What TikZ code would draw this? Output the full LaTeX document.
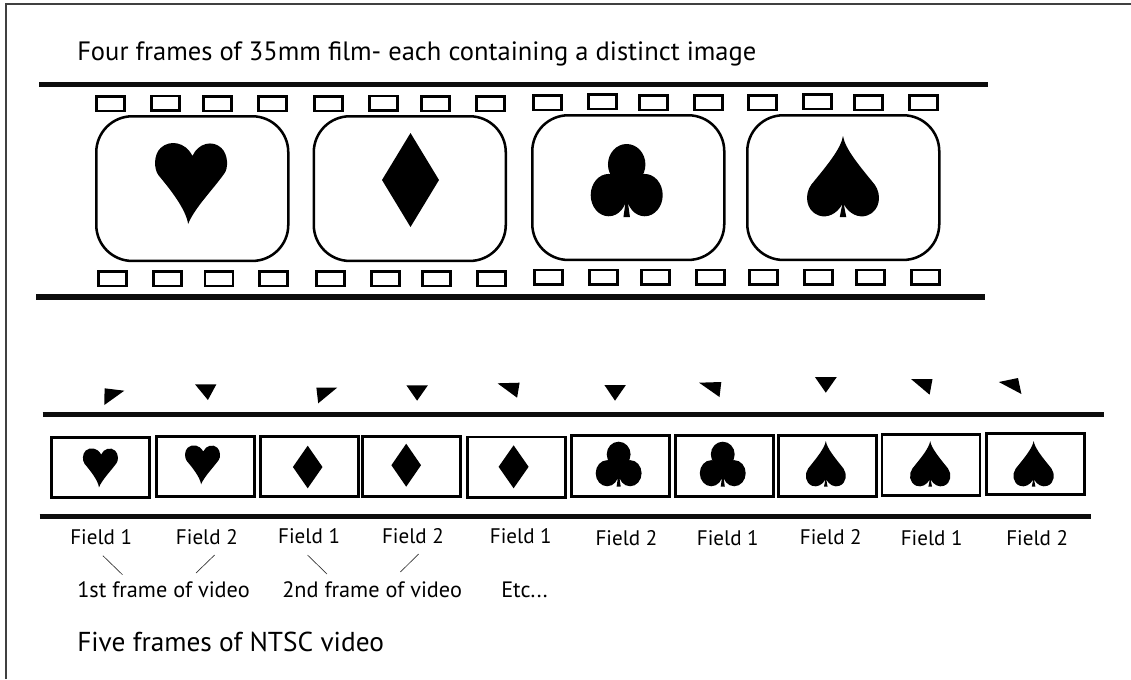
\documentclass[tikz,border=0pt]{standalone}
\usepackage{fontspec}
\setmainfont{PT Sans}
\newcommand{\hrtshape}{(0.46,1) .. controls (0.43,0.82) and (0.22,0.58) .. (0.05,0.4) .. controls (-0.02,0.32) and (-0.02,0.14) .. (0.08,0.06) .. controls (0.2,-0.04) and (0.42,-0.02) .. (0.52,0.16) .. controls (0.6,0) and (0.8,-0.04) .. (0.92,0.06) .. controls (1.02,0.14) and (1.02,0.32) .. (0.96,0.38) .. controls (0.8,0.58) and (0.55,0.8) .. (0.46,1) -- cycle}
\newcommand{\spdshape}{(0.5,0) .. controls (0.53,0.16) and (0.72,0.36) .. (0.94,0.6) .. controls (1.04,0.72) and (1.02,0.92) .. (0.84,0.98) .. controls (0.72,1.02) and (0.58,0.96) .. (0.51,0.84) -- (0.545,1) -- (0.455,1) -- (0.49,0.84) .. controls (0.42,0.96) and (0.28,1.02) .. (0.16,0.98) .. controls (-0.02,0.92) and (-0.04,0.72) .. (0.06,0.6) .. controls (0.28,0.36) and (0.47,0.16) .. (0.5,0) -- cycle}
\newcommand{\dmdshape}{(0.5,0) -- (1,0.5) -- (0.5,1) -- (0,0.5) -- cycle}
\newcommand{\clbshape}{(0.5,0.28) ellipse [x radius=0.26,y radius=0.28] (0.25,0.7) ellipse [x radius=0.25,y radius=0.29] (0.75,0.7) ellipse [x radius=0.25,y radius=0.29] (0.5,0.6) ellipse [x radius=0.2,y radius=0.22] (0.49,0.75) -- (0.51,0.75) -- (0.545,1) -- (0.455,1) -- cycle}
\newcommand{\suit}[5]{\fill[black,shift={(#2,#3)},x=#4*0.75pt,y=-#5*0.75pt] #1;}
\tikzset{
 x=0.75pt,y=-0.75pt,
 border/.style={draw=black!75,line width=1.9pt},
 filmline/.style={line width=3.9pt,black!95},
 sprocket/.style={draw=black,line width=1.9pt,rectangle,minimum width=21pt,minimum height=11pt,inner sep=0pt,anchor=north west},
 filmframe/.style={draw=black,line width=1.9pt,rectangle,rounded corners=27pt,minimum width=144pt,minimum height=108.5pt,inner sep=0pt,anchor=north west},
 fieldbox/.style={draw=black,line width=2.2pt,rectangle,minimum width=73.5pt,minimum height=45.5pt,inner sep=0pt,anchor=north west},
 wedge/.style={fill=black},
 titletext/.style={anchor=base west,inner sep=0pt,font=\fontsize{19.9}{22}\selectfont},
 videotext/.style={anchor=base west,inner sep=0pt,font=\fontsize{20.5}{23}\selectfont},
 fieldtext/.style={anchor=base west,inner sep=0pt,font=\fontsize{15.8}{18}\selectfont},
 frametext/.style={anchor=base west,inner sep=0pt,font=\fontsize{16.7}{19}\selectfont},
 tick/.style={draw=black!80,line width=0.5pt}
}
\begin{document}
\begin{tikzpicture}
\useasboundingbox (0,0) rectangle (1131,679);
\draw[border] (6,679) -- (6,4) -- (1131,4);
\node[titletext] (t1) at (77,60) {Four frames of 35mm film- each containing a distinct image};
\node[videotext] (t2) at (77,651.7) {Five frames of NTSC video};
% film
\draw[filmline] (39,84.5) -- (988,84.5);
\draw[filmline] (36,297) -- (985,297);
\foreach \i/\x/\y in {1/95/95,2/150/94.5,3/202/95,4/257/95,5/313/95,6/368/94.5,7/420/95,8/475/95,9/532/94,10/587/93,11/638/94,12/693/94,13/747/94,14/802/93,15/853/94,16/908/94}
 \node[sprocket] (st\i) at (\x,\y) {};
\foreach \i/\x/\y in {1/97/270,2/152/270,3/203.5/270,4/258/270,5/315/270,6/370/270,7/421/270,8/476/270,9/533/268.5,10/588/268.5,11/640/268.5,12/695/268.5,13/748/268.5,14/803/268.5,15/855/268.5,16/910/268.5}
 \node[sprocket] (sb\i) at (\x,\y) {};
\foreach \i/\x/\y in {1/95/115,2/312.5/115,3/531/114,4/746/114}
 \node[filmframe] (ff\i) at (\x,\y) {};
\suit{\hrtshape}{155}{143}{72}{81}
\suit{\dmdshape}{382}{133}{57}{94}
\suit{\clbshape}{590.7}{144}{72}{73}
\suit{\spdshape}{807}{136}{72}{81}
% video
\draw[filmline] (42.5,414.5) -- (1104,414.5);
\draw[filmline] (39.5,516.7) -- (1090.5,516.7);
\foreach \i/\x/\y in {1/50.4/435.7,2/154.6/434.7,3/258.6/434.7,4/361.4/434.7,5/465.7/435.5,6/569.8/434,7/673.6/434,8/776.7/434,9/880.5/433.3,10/984.6/432.3}
 \node[fieldbox] (vf\i) at (\x,\y) {};
\suit{\hrtshape}{82.9}{448.3}{35}{39}
\suit{\hrtshape}{185}{445.3}{35}{39}
\suit{\dmdshape}{292.9}{445.7}{29.6}{42.6}
\suit{\dmdshape}{391.4}{443.7}{29.6}{43}
\suit{\dmdshape}{498.6}{445.3}{30}{43}
\suit{\clbshape}{595.7}{441.7}{45.9}{45}
\suit{\clbshape}{699.8}{441.7}{45.9}{45}
\suit{\spdshape}{805.8}{441}{40}{45.7}
\suit{\spdshape}{910}{441}{40.4}{45.7}
\suit{\spdshape}{1013.4}{441}{40.4}{45.7}
% wedges
\fill[wedge] (104.6,388.3) -- (124.3,390.7) -- (104.3,405) -- cycle;
\fill[wedge] (195,384.3) -- (216.4,384.3) -- (207.9,400) -- cycle;
\fill[wedge] (316.4,387.7) -- (337.1,387.7) -- (318.2,403.3) -- cycle;
\fill[wedge] (406.4,385.3) -- (427.9,385.3) -- (417.1,400.7) -- cycle;
\fill[wedge] (497.5,383.3) -- (519.6,382.7) -- (517.1,397.7) -- cycle;
\fill[wedge] (604.4,385) -- (625.9,385) -- (615,400.7) -- cycle;
\fill[wedge] (699.1,382.7) -- (721.3,382) -- (719.5,397) -- cycle;
\fill[wedge] (814.9,377) -- (836.8,377) -- (825.8,392.7) -- cycle;
\fill[wedge] (911,379) -- (932.5,379) -- (929.6,394.7) -- cycle;
\fill[wedge] (998.8,382) -- (1018,378) -- (1021.4,394) -- cycle;
% labels
\node[fieldtext] (f1) at (70,544.7) {Field 1};
\node[fieldtext] (f2) at (175.7,544.7) {Field 2};
\node[fieldtext] (f3) at (277.9,543.3) {Field 1};
\node[fieldtext] (f4) at (381.8,543.3) {Field 2};
\node[fieldtext] (f5) at (489.6,543.3) {Field 1};
\node[fieldtext] (f6) at (595.3,545) {Field 2};
\node[fieldtext] (f7) at (696.6,545) {Field 1};
\node[fieldtext] (f8) at (799.6,544) {Field 2};
\node[fieldtext] (f9) at (900.5,545) {Field 1};
\node[fieldtext] (f10) at (1006,545) {Field 2};
\node[frametext] (v1) at (77,597.3) {1st frame of video};
\node[frametext] (v2) at (282,597.3) {2nd frame of video};
\node[frametext] (v3) at (501,597.3) {Etc...};
\coordinate (c1a) at (102.9,555.7); \coordinate (c1b) at (122.5,574.7);
\coordinate (c2a) at (214.6,555); \coordinate (c2b) at (196,573);
\coordinate (c3a) at (307.5,555); \coordinate (c3b) at (327,574);
\coordinate (c4a) at (418.6,554); \coordinate (c4b) at (400.4,572);
\draw[tick] (c1a) -- (c1b);
\draw[tick] (c2a) -- (c2b);
\draw[tick] (c3a) -- (c3b);
\draw[tick] (c4a) -- (c4b);
\end{tikzpicture}
\end{document}
